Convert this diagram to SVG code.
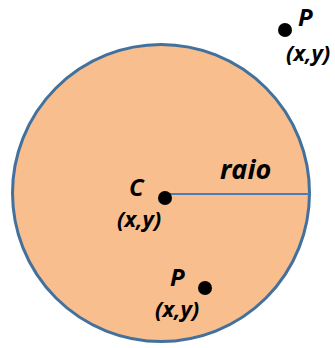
<svg xmlns="http://www.w3.org/2000/svg" width="335" height="348" viewBox="0 0 335 348">
<style>
.lbl{font-family:"Open Sans","Liberation Sans",sans-serif;font-weight:bold;font-style:italic;fill:#000}
.cap{font-size:24px}
.raio{font-size:27px}
.xy{font-size:22px}
.dot{fill:#000}
</style>
<rect width="335" height="348" fill="#fff"/>
<g id="circle">
<circle cx="161" cy="193" r="148.5" fill="#F8BE8D" stroke="#41719C" stroke-width="3"/>
</g>
<g id="connectors">
<line x1="165" y1="194" x2="309.5" y2="194" stroke="#4A7EBB" stroke-width="2"/>
</g>
<g id="center">
<circle class="dot" cx="165" cy="198" r="7"/>
<text class="lbl cap" x="129" y="196">C</text>
<text class="lbl xy" x="117" y="227">(x,y)</text>
</g>
<g id="raio">
<text class="lbl raio" x="220" y="179">raio</text>
</g>
<g id="p-outside">
<circle class="dot" cx="285" cy="30" r="7"/>
<text class="lbl cap" x="298" y="26">P</text>
<text class="lbl xy" x="286" y="61">(x,y)</text>
</g>
<g id="p-inside">
<circle class="dot" cx="205" cy="288" r="7"/>
<text class="lbl cap" x="170" y="286">P</text>
<text class="lbl xy" x="155" y="317">(x,y)</text>
</g>
</svg>
